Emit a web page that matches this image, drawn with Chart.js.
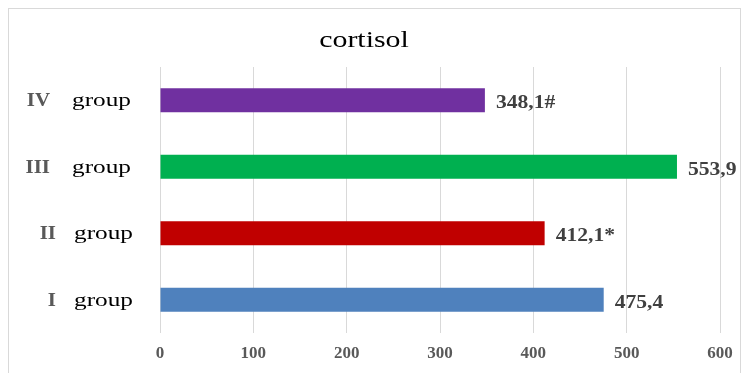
<!DOCTYPE html>
<html lang="en">
<head>
<meta charset="UTF-8">
<title>cortisol</title>
<script src="https://cdn.jsdelivr.net/npm/chart.js"></script>
<style>
  html, body { margin: 0; padding: 0; background: #fff; overflow: hidden; }
  #frame { position: absolute; left: 8px; top: 8px; width: 731px; height: 400px; border: 1px solid #d9d9d9; }
  #wrap { position: absolute; left: 0; top: 0; width: 747px; height: 373px; }
</style>
</head>
<body>
<div id="frame"></div>
<div id="wrap"><canvas id="chart"></canvas></div>
<script>
// данные
const romans = ['IV', 'III', 'II', 'I'];
const groupWord = 'group';
const cortisol = [348.1, 553.9, 412.1, 475.4];
const marks = ['#', '', '*', ''];
const barColors = ['#7030A0', '#00B050', '#C00000', '#4F81BD'];
const xTicks = [0, 100, 200, 300, 400, 500, 600];
const titleText = 'cortisol';

const serif = '"Liberation Serif", "Times New Roman", serif';

// текст с растяжкой по горизонтали (картинка-оригинал слегка растянута)
function wideText(ctx, txt, x, y, sx, align) {
  ctx.save();
  ctx.translate(x, y);
  ctx.scale(sx, 1);
  ctx.textAlign = align;
  ctx.fillText(txt, 0, 0);
  ctx.restore();
}

// заголовок, подписи групп и значения у столбцов
const textLayer = {
  id: 'textLayer',
  afterDraw(chart) {
    const ctx = chart.ctx;
    const yScale = chart.scales.y;
    const meta = chart.getDatasetMeta(0);
    ctx.save();
    ctx.textBaseline = 'alphabetic';

    ctx.fillStyle = '#000';
    ctx.font = '23px ' + serif;
    wideText(ctx, titleText, 364, 47, 1.3, 'center');

    romans.forEach((r, i) => {
      const y = yScale.getPixelForValue(i) + 6;
      const shift = r.length > 2 || r === 'IV' ? 0 : 6;   // у II и I текст чуть правее
      ctx.fillStyle = '#595959';
      ctx.font = 'bold 19px ' + serif;
      wideText(ctx, r, 50 + shift, y, 1.1, 'right');
      ctx.fillStyle = '#000';
      ctx.font = '19px ' + serif;
      wideText(ctx, groupWord, 72 + shift / 3, y, 1.33, 'left');
    });

    ctx.fillStyle = '#404040';
    ctx.font = 'bold 18px ' + serif;
    meta.data.forEach((bar, i) => {
      const txt = cortisol[i].toFixed(1).replace('.', ',') + marks[i];
      wideText(ctx, txt, bar.x + 11, bar.y + 8, 1.2, 'left');
    });
    ctx.restore();
  }
};

new Chart(document.getElementById('chart'), {
  type: 'bar',
  data: {
    labels: romans.map(r => r + ' ' + groupWord),
    datasets: [{
      data: cortisol,
      backgroundColor: barColors,
      borderWidth: 0,
      categoryPercentage: 1,
      barPercentage: 0.36
    }]
  },
  options: {
    indexAxis: 'y',
    responsive: true,
    maintainAspectRatio: false,
    animation: false,
    layout: { padding: { top: 67, left: 0, right: 27, bottom: 0 } },
    plugins: {
      legend: { display: false },
      tooltip: { enabled: false },
      title: { display: false }
    },
    scales: {
      x: {
        min: 0,
        max: 600,
        afterBuildTicks(scale) { scale.ticks = xTicks.map(v => ({ value: v })); },
        afterFit(scale) { scale.height = 40; },
        grid: { color: '#d9d9d9', lineWidth: 1, drawTicks: false },
        border: { display: false },
        ticks: {
          padding: 10,
          color: '#595959',
          font: { family: serif, size: 17, weight: 'bold' }
        }
      },
      y: {
        afterFit(scale) { scale.width = 160; },
        grid: { display: false },
        border: { display: false },
        ticks: { display: false }
      }
    }
  },
  plugins: [textLayer]
});
</script>
</body>
</html>
